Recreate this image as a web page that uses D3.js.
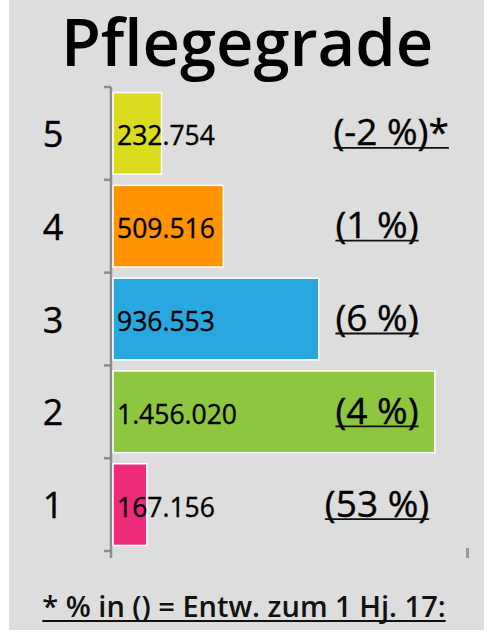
<!DOCTYPE html>
<html>
<head>
<meta charset="utf-8">
<script src="https://cdn.jsdelivr.net/npm/d3@7"></script>
<style>
  html, body { margin: 0; padding: 0; background: #ffffff; }
  svg { display: block; font-family: "Open Sans", sans-serif; }
</style>
</head>
<body>
<svg id="chart" width="487" height="642"></svg>
<script>
// ---- data ----
const categories = ["5", "4", "3", "2", "1"];
const values = [232754, 509516, 936553, 1456020, 167156];
const valueLabels = ["232.754", "509.516", "936.553", "1.456.020", "167.156"];
const changeLabels = ["(-2 %)", "(1 %)", "(6 %)", "(4 %)", "(53 %)"];
const changeFootnote = ["*", "", "", "", ""];
const colors = ["#dcdc1e", "#ff9400", "#29a8e0", "#8dc63f", "#ee2a7b"];
const xMax = 1600000;
const titleText = "Pflegegrade";
const footnoteText = "* % in () = Entw. zum 1 Hj. 17:";

// ---- drawing ----
const svg = d3.select("#chart");

svg.append("rect").attr("x", 9).attr("y", 0).attr("width", 475).attr("height", 630)
  .attr("fill", "#dddddd");

svg.append("text").attr("x", 247).attr("y", 66)
  .attr("text-anchor", "middle").attr("font-size", 65).attr("font-weight", 600)
  .attr("fill", "#000").text(titleText);

const y = d3.scaleBand().domain(categories).range([87, 551])
  .paddingInner(0.12).paddingOuter(0.06);
const x = d3.scaleLinear().domain([0, xMax]).range([109.5, 467]);
const barStart = 113;

const axisColor = "#8c8c8c";
const gAxis = svg.append("g").attr("transform", "translate(111,0)");
gAxis.call(d3.axisLeft(y).tickSize(0).tickFormat(d => d));
gAxis.select(".domain").attr("stroke", axisColor).attr("stroke-width", 2.5)
  .attr("d", "M0,87V558");
gAxis.selectAll(".tick text").attr("font-size", 36)
  .attr("fill", "#000").attr("stroke", "#000").attr("stroke-width", 0.4)
  .attr("text-anchor", "middle").attr("x", -58).attr("dy", "0.38em")
  .attr("font-family", "Open Sans, sans-serif");
const step = y.step();
const boundaries = categories.map(c => y(c) - y.paddingInner() * step / 2)
  .concat([y(categories[categories.length - 1]) + y.bandwidth() + y.paddingInner() * step / 2]);
gAxis.selectAll("line.bt").data(boundaries).enter().append("line")
  .attr("class", "bt").attr("x1", -7).attr("x2", 0)
  .attr("y1", d => d).attr("y2", d => d)
  .attr("stroke", axisColor).attr("stroke-width", 2.5);

// bottom axis: only the end tick
const gx = svg.append("g").attr("transform", "translate(0,548)");
gx.call(d3.axisBottom(x).tickValues([xMax]).tickSize(10).tickFormat(""));
gx.select(".domain").remove();
gx.selectAll(".tick line").attr("stroke", "#999").attr("stroke-width", 3);

// bars
svg.selectAll("rect.bar").data(categories).enter().append("rect")
  .attr("class", "bar")
  .attr("x", barStart)
  .attr("y", d => y(d))
  .attr("width", (d, i) => x(values[i]) - barStart)
  .attr("height", y.bandwidth())
  .attr("fill", (d, i) => colors[i])
  .attr("stroke", "#ffffff").attr("stroke-width", 1.5);

// value labels
svg.selectAll("text.val").data(categories).enter().append("text")
  .attr("class", "val")
  .attr("x", 117)
  .attr("y", d => y(d) + y.bandwidth() / 2 + 12)
  .attr("font-size", 26.5).attr("fill", "#000")
  .attr("stroke", "#000").attr("stroke-width", 0.35)
  .text((d, i) => valueLabels[i]);

// change labels with manual underline
function underline(textSel, offset, width) {
  const bb = textSel.node().getBBox();
  svg.append("line")
    .attr("x1", bb.x).attr("x2", bb.x + bb.width)
    .attr("y1", +textSel.attr("y") + offset).attr("y2", +textSel.attr("y") + offset)
    .attr("stroke", "#111").attr("stroke-width", width);
}
const cx = 377;
categories.forEach((c, i) => {
  const by = y(c) + y.bandwidth() / 2 + 12;
  const t = svg.append("text").attr("x", cx).attr("y", by)
    .attr("text-anchor", "middle").attr("font-size", 37)
    .attr("fill", "#000").attr("stroke", "#000").attr("stroke-width", 0.4)
    .text(changeLabels[i] + changeFootnote[i]);
  if (changeFootnote[i]) {
    const probe = svg.append("text").attr("font-size", 37).text(changeFootnote[i]);
    const fw = probe.node().getComputedTextLength();
    probe.remove();
    t.attr("x", cx + fw / 2 + 4);
  }
  underline(t, 2.5, 1.8);
});

// footnote
const ft = svg.append("text").attr("x", 244).attr("y", 617)
  .attr("text-anchor", "middle").attr("font-size", 29).attr("font-weight", 600)
  .attr("fill", "#111").text(footnoteText);
underline(ft, 4, 2);
</script>
</body>
</html>
